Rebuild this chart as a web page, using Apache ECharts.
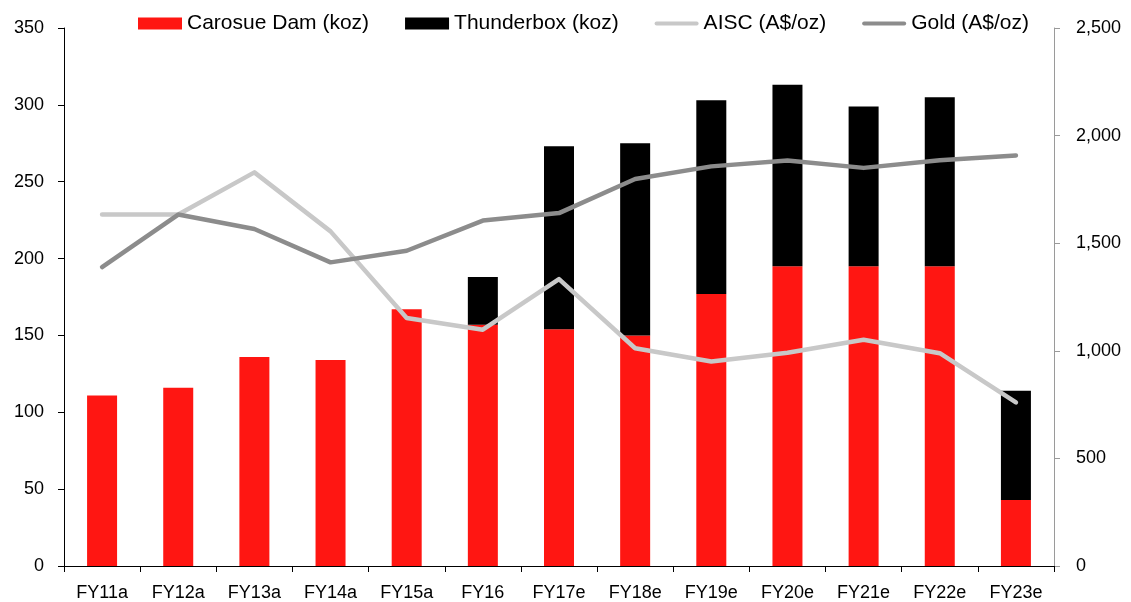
<!DOCTYPE html>
<html>
<head>
<meta charset="utf-8">
<title>Carosue Dam & Thunderbox production</title>
<script src="https://cdn.jsdelivr.net/npm/echarts@6/dist/echarts.min.js"></script>
<style>
  html, body { margin: 0; padding: 0; background: #ffffff; }
  #chart { width: 1131px; height: 602px; }
</style>
</head>
<body>
<div id="chart"></div>
<script>
// Fiscal years
const categories = ['FY11a', 'FY12a', 'FY13a', 'FY14a', 'FY15a', 'FY16', 'FY17e', 'FY18e', 'FY19e', 'FY20e', 'FY21e', 'FY22e', 'FY23e'];

// Production (koz), stacked bars on the left axis
const carosueDam = [111, 116, 136, 134, 167, 157, 154, 150, 177, 195, 195, 195, 43];
const thunderbox = [null, null, null, null, null, 31, 119, 125, 126, 118, 104, 110, 71];

// Prices / costs (A$/oz), lines on the right axis
const aisc = [1633, 1633, 1829, 1555, 1152, 1098, 1333, 1012, 950, 991, 1051, 989, 760];
const gold = [1389, 1633, 1566, 1411, 1465, 1605, 1640, 1798, 1857, 1884, 1850, 1885, 1908];

// Axis tick ranges
const leftTicks = { min: 0, max: 350, interval: 50 };
const rightTicks = { min: 0, max: 2500, interval: 500 };

const FONT = '"Liberation Sans", Arial, sans-serif';
const RED = '#ff1612';
const BLACK = '#000000';
const LIGHT = '#c8c8c8';
const DARK = '#8c8c8c';

// Thin horizontal bar used as the legend marker for the line series
const lineIcon = 'path://M2,0 L44,0 A2,2 0 0 1 44,4 L2,4 A2,2 0 0 1 2,0 Z';

const chart = echarts.init(document.getElementById('chart'), null, { renderer: 'canvas' });

chart.setOption({
  animation: false,
  backgroundColor: '#ffffff',
  textStyle: { fontFamily: FONT, color: '#000' },
  grid: { left: 64, right: 77, top: 28, bottom: 36, containLabel: false },
  legend: {
    left: 133,
    top: 8,
    itemWidth: 44,
    itemHeight: 12,
    itemGap: 36,
    textStyle: { fontFamily: FONT, fontSize: 21, color: '#000' },
    data: [
      { name: 'Carosue Dam (koz)', icon: 'rect' },
      { name: 'Thunderbox (koz)', icon: 'rect' },
      { name: 'AISC (A$/oz)', icon: lineIcon },
      { name: 'Gold (A$/oz)', icon: lineIcon }
    ]
  },
  xAxis: {
    type: 'category',
    data: categories,
    boundaryGap: true,
    axisLine: { lineStyle: { color: '#000', width: 1 } },
    axisTick: { show: true, length: 6, alignWithLabel: false, lineStyle: { color: '#000' } },
    axisLabel: { fontFamily: FONT, fontSize: 18, color: '#000', margin: 18, interval: 0 }
  },
  yAxis: [
    {
      type: 'value',
      min: leftTicks.min,
      max: leftTicks.max,
      interval: leftTicks.interval,
      position: 'left',
      splitLine: { show: false },
      axisLine: { show: true, lineStyle: { color: '#000', width: 1 } },
      axisTick: { show: true, length: 6, lineStyle: { color: '#000' } },
      axisLabel: { fontFamily: FONT, fontSize: 18, color: '#000', margin: 20, padding: [3, 0, 0, 0] }
    },
    {
      type: 'value',
      min: rightTicks.min,
      max: rightTicks.max,
      interval: rightTicks.interval,
      position: 'right',
      splitLine: { show: false },
      axisLine: { show: true, lineStyle: { color: '#9a9a9a', width: 1 } },
      axisTick: { show: true, length: 6, lineStyle: { color: '#9a9a9a' } },
      axisLabel: {
        fontFamily: FONT, fontSize: 18, color: '#000', margin: 22, padding: [3, 0, 0, 0],
        formatter: v => v.toLocaleString('en-US')
      }
    }
  ],
  series: [
    {
      name: 'Carosue Dam (koz)',
      type: 'bar',
      stack: 'prod',
      yAxisIndex: 0,
      barWidth: 30,
      itemStyle: { color: RED },
      data: carosueDam
    },
    {
      name: 'Thunderbox (koz)',
      type: 'bar',
      stack: 'prod',
      yAxisIndex: 0,
      barWidth: 30,
      itemStyle: { color: BLACK },
      data: thunderbox
    },
    {
      name: 'AISC (A$/oz)',
      type: 'line',
      yAxisIndex: 1,
      symbol: 'none',
      itemStyle: { color: LIGHT },
      lineStyle: { color: LIGHT, width: 4.5, cap: 'round', join: 'round' },
      z: 3,
      data: aisc
    },
    {
      name: 'Gold (A$/oz)',
      type: 'line',
      yAxisIndex: 1,
      symbol: 'none',
      itemStyle: { color: DARK },
      lineStyle: { color: DARK, width: 4.5, cap: 'round', join: 'round' },
      z: 4,
      data: gold
    }
  ]
});
</script>
</body>
</html>
